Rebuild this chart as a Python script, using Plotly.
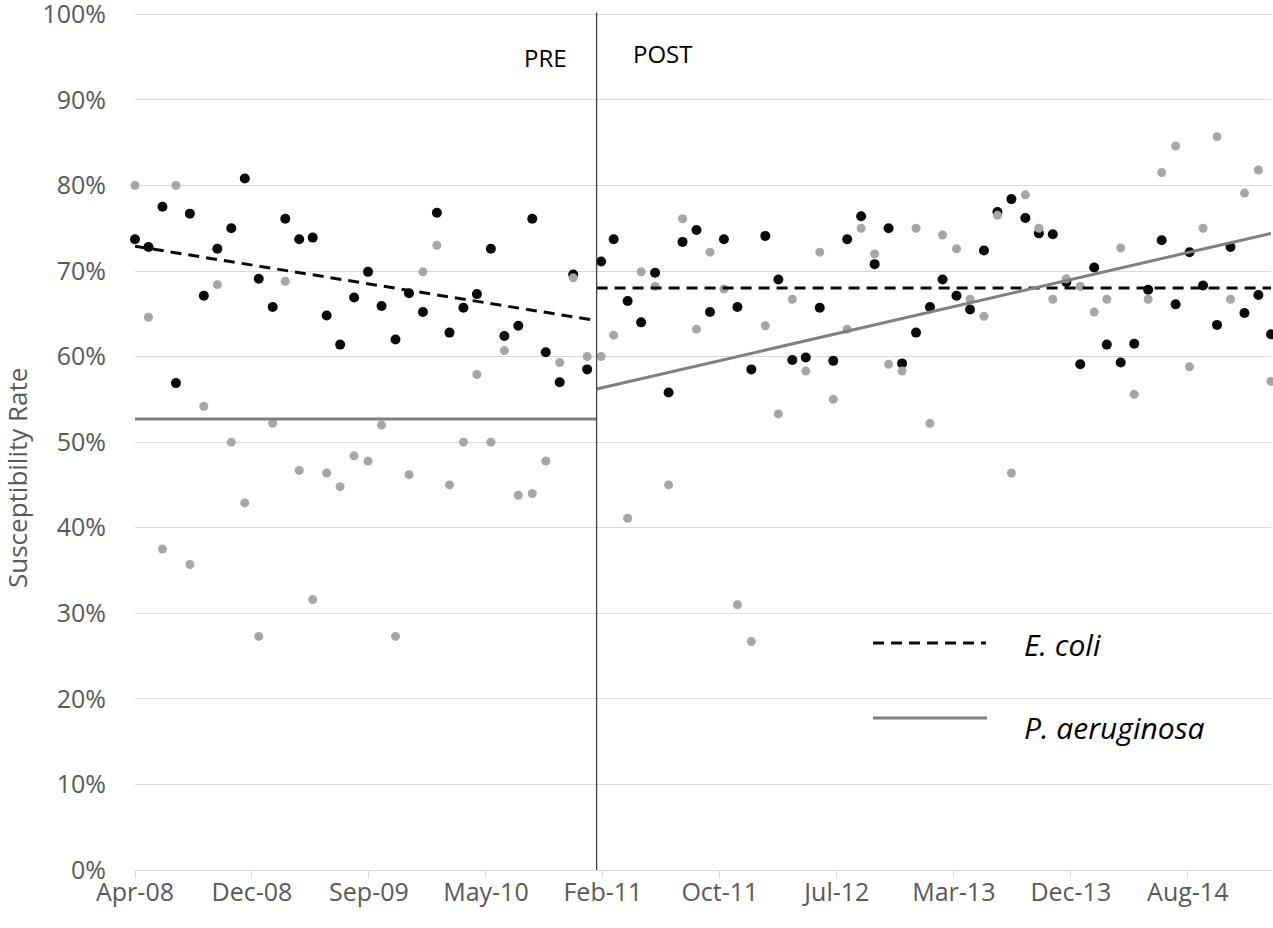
import pandas as pd
import plotly.graph_objects as go

# ---------------- data ----------------
months = pd.date_range("2008-04-01", periods=84, freq="MS")

ecoli = [73.7, 72.8, 77.5, 56.9, 76.7, 67.1, 72.6, 75.0, 80.8, 69.1,
         65.8, 76.1, 73.7, 73.9, 64.8, 61.4, 66.9, 69.9, 65.9, 62.0,
         67.4, 65.2, 76.8, 62.8, 65.7, 67.3, 72.6, 62.4, 63.6, 76.1,
         60.5, 57.0, 69.6, 58.5, 71.1, 73.7, 66.5, 64.0, 69.8, 55.8,
         73.4, 74.8, 65.2, 73.7, 65.8, 58.5, 74.1, 69.0, 59.6, 59.9,
         65.7, 59.5, 73.7, 76.4, 70.8, 75.0, 59.2, 62.8, 65.8, 69.0,
         67.1, 65.5, 72.4, 76.9, 78.4, 76.2, 74.4, 74.3, 68.7, 59.1,
         70.4, 61.4, 59.3, 61.5, 67.8, 73.6, 66.1, 72.2, 68.3, 63.7,
         72.8, 65.1, 67.2, 62.6]

paeru = [80.0, 64.6, 37.5, 80.0, 35.7, 54.2, 68.4, 50.0, 42.9, 27.3,
         52.2, 68.8, 46.7, 31.6, 46.4, 44.8, 48.4, 47.8, 52.0, 27.3,
         46.2, 69.9, 73.0, 45.0, 50.0, 57.9, 50.0, 60.7, 43.8, 44.0,
         47.8, 59.3, 69.2, 60.0, 60.0, 62.5, 41.1, 69.9, 68.2, 45.0,
         76.1, 63.2, 72.2, 67.9, 31.0, 26.7, 63.6, 53.3, 66.7, 58.3,
         72.2, 55.0, 63.2, 75.0, 72.0, 59.1, 58.3, 75.0, 52.2, 74.2,
         72.6, 66.7, 64.7, 76.5, 46.4, 78.9, 75.0, 66.7, 69.1, 68.2,
         65.2, 66.7, 72.7, 55.6, 66.7, 81.5, 84.6, 58.8, 75.0, 85.7,
         66.7, 79.1, 81.8, 57.1]

intervention = pd.Timestamp("2011-01-22")

ecoli_pre_trend = [72.9, 64.2]
ecoli_post_trend = [68.0, 68.0]
paeru_pre_trend = [52.7, 52.7]
paeru_post_trend = [56.2, 74.4]

tick_labels = ["Apr-08", "Dec-08", "Sep-09", "May-10", "Feb-11",
               "Oct-11", "Jul-12", "Mar-13", "Dec-13", "Aug-14"]
tick_dates = pd.date_range("2008-04-01", periods=len(tick_labels), freq="260D")

y_tick_vals = [0, 10, 20, 30, 40, 50, 60, 70, 80, 90, 100]
y_tick_labels = ["0%", "10%", "20%", "30%", "40%", "50%",
                 "60%", "70%", "80%", "90%", "100%"]

legend_names = ["E. coli", "P. aeruginosa"]
phase_labels = ["PRE", "POST"]
y_title = "Susceptibility Rate"

# ---------------- styling ----------------
FONT = "Open Sans"
TXT = "#595959"
GRID = "#d9d9d9"
BLACK = "#0a0a0a"
GREY_PT = "#a6a6a6"
GREY_LN = "#808080"
DASH = "11px,7px"

fig = go.Figure()

fig.add_trace(go.Scatter(x=months, y=ecoli, mode="markers",
                         marker=dict(color=BLACK, size=10, line=dict(width=0)),
                         cliponaxis=False, showlegend=False))
fig.add_trace(go.Scatter(x=months, y=paeru, mode="markers",
                         marker=dict(color=GREY_PT, size=9, line=dict(width=0)),
                         cliponaxis=False, showlegend=False))

fig.add_trace(go.Scatter(x=[months[0], intervention], y=ecoli_pre_trend, mode="lines",
                         line=dict(color=BLACK, width=3, dash=DASH), showlegend=False))
fig.add_trace(go.Scatter(x=[intervention, months[-1]], y=ecoli_post_trend, mode="lines",
                         line=dict(color=BLACK, width=3, dash=DASH), showlegend=False))
fig.add_trace(go.Scatter(x=[months[0], intervention], y=paeru_pre_trend, mode="lines",
                         line=dict(color=GREY_LN, width=3), showlegend=False))
fig.add_trace(go.Scatter(x=[intervention, months[-1]], y=paeru_post_trend, mode="lines",
                         line=dict(color=GREY_LN, width=3), showlegend=False))

# intervention divider
fig.add_trace(go.Scatter(x=[intervention, intervention], y=[0, 100.2], mode="lines",
                         line=dict(color="#404040", width=1.3), showlegend=False,
                         cliponaxis=False))

Y_MAX = 100.5
L, R, T, B = 135, 2, 10, 58
W, H = 1273, 928
PW, PH = W - L - R, H - T - B


def px(xp):
    return (xp - L) / PW


def py(yp):
    return (H - B - yp) / PH


shapes = [
    dict(type="line", xref="paper", yref="paper", x0=px(873), x1=px(986),
         y0=py(643), y1=py(643), line=dict(color=BLACK, width=3, dash=DASH)),
    dict(type="line", xref="paper", yref="paper", x0=px(873), x1=px(987),
         y0=py(718), y1=py(718), line=dict(color=GREY_LN, width=3)),
]

annotations = [
    dict(text="<i>%s</i>" % legend_names[0], xref="paper", yref="paper",
         x=px(1022), y=py(644), xanchor="left", yanchor="middle", showarrow=False,
         font=dict(family=FONT, size=30, color="#000000")),
    dict(text="<i>%s</i>" % legend_names[1], xref="paper", yref="paper",
         x=px(1022), y=py(727), xanchor="left", yanchor="middle", showarrow=False,
         font=dict(family=FONT, size=30, color="#000000")),
    dict(text=phase_labels[0], xref="paper", yref="paper",
         x=px(545), y=py(57), xanchor="center", yanchor="middle", showarrow=False,
         font=dict(family=FONT, size=24, color="#000000")),
    dict(text=phase_labels[1], xref="paper", yref="paper",
         x=px(662), y=py(53), xanchor="center", yanchor="middle", showarrow=False,
         font=dict(family=FONT, size=24, color="#000000")),
    dict(text=y_title, xref="paper", yref="paper", textangle=-90,
         x=px(17), y=py(478), xanchor="center", yanchor="middle", showarrow=False,
         font=dict(family=FONT, size=26, color=TXT)),
]

fig.update_layout(
    width=W, height=H,
    margin=dict(l=L, r=R, t=T, b=B, pad=0),
    paper_bgcolor="white", plot_bgcolor="white",
    font=dict(family=FONT, color=TXT),
    shapes=shapes, annotations=annotations,
    showlegend=False,
)

fig.update_xaxes(
    type="date", range=[months[0], months[-1]], automargin=False,
    tickmode="array", tickvals=tick_dates, ticktext=tick_labels,
    showgrid=False, zeroline=False,
    showline=True, linecolor=GRID, linewidth=1.3,
    ticks="outside", ticklen=7, tickcolor=GRID, tickwidth=1.3,
    ticklabelstandoff=-7, ticklabeloverflow="allow",
    tickfont=dict(family=FONT, size=25, color=TXT),
)
fig.update_yaxes(
    range=[0, Y_MAX], automargin=False,
    tickmode="array", tickvals=y_tick_vals, ticktext=y_tick_labels,
    showgrid=True, gridcolor=GRID, gridwidth=1.3, zeroline=False,
    showline=False, ticks="", ticklabelstandoff=28, ticklabeloverflow="allow",
    tickfont=dict(family=FONT, size=25, color=TXT),
)

fig.write_html("out.html", config={"displayModeBar": False},
               post_script="document.body.style.margin='0';")
